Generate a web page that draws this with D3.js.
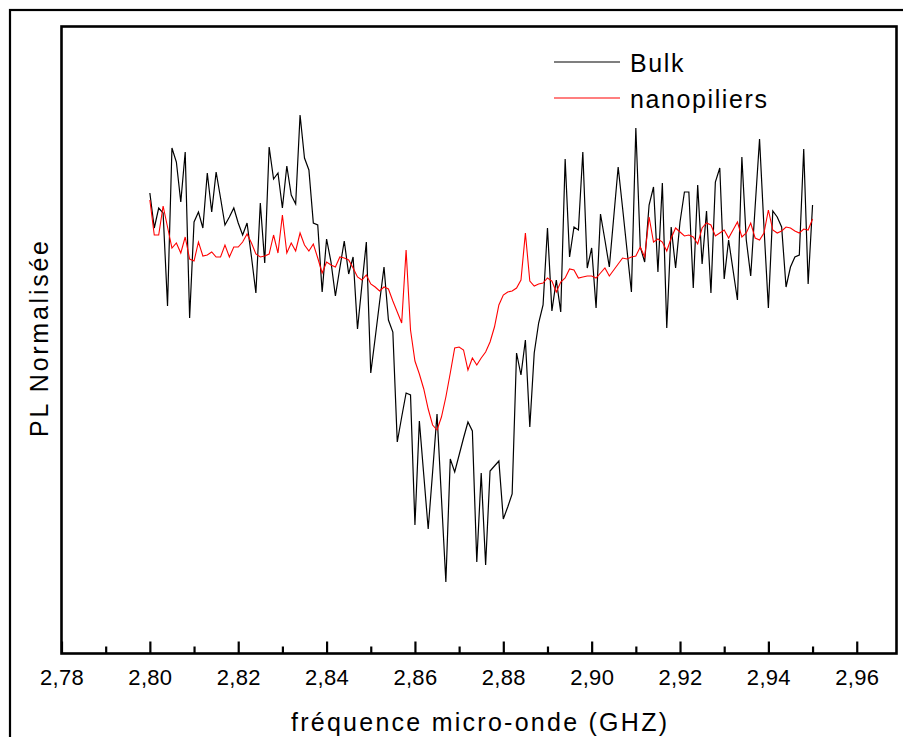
<!DOCTYPE html>
<html><head><meta charset="utf-8">
<script src="https://cdn.jsdelivr.net/npm/d3@7"></script>
<style>html,body{margin:0;padding:0;background:#fff;} svg{display:block;}</style>
</head><body>
<svg id="c" width="903" height="737"></svg>
<script>
// Sweep: 2.800 GHz to 2.950 GHz, 1 MHz step (151 points)
const freqStart = 2.800;
const freqStep = 0.001;

const bulk = [
0.460,0.425,0.445,0.440,0.347,0.505,0.491,0.451,0.501,0.335,
0.431,0.441,0.425,0.480,0.441,0.481,0.455,0.428,0.436,0.445,
0.430,0.418,0.430,0.396,0.360,0.450,0.390,0.506,0.474,0.480,
0.445,0.487,0.458,0.449,0.538,0.495,0.483,0.430,0.428,0.361,
0.414,0.391,0.357,0.385,0.412,0.379,0.396,0.324,0.368,0.411,
0.280,0.315,0.351,0.386,0.333,0.321,0.211,0.236,0.260,0.258,
0.128,0.232,0.178,0.124,0.181,0.239,0.155,0.071,0.194,0.181,
0.198,0.215,0.231,0.222,0.091,0.180,0.088,0.182,0.187,0.192,
0.134,0.146,0.159,0.300,0.278,0.313,0.226,0.300,0.330,0.348,
0.425,0.342,0.373,0.341,0.494,0.396,0.426,0.423,0.501,0.385,
0.405,0.345,0.439,0.413,0.386,0.436,0.486,0.445,0.403,0.361,
0.525,0.406,0.391,0.448,0.466,0.381,0.470,0.325,0.426,0.385,
0.431,0.461,0.461,0.365,0.468,0.389,0.442,0.360,0.471,0.485,
0.374,0.413,0.383,0.353,0.496,0.413,0.377,0.446,0.514,0.426,
0.345,0.442,0.436,0.426,0.366,0.386,0.396,0.398,0.504,0.369,
0.448
];

const nano = [
0.453,0.418,0.418,0.447,0.426,0.405,0.410,0.400,0.416,0.394,
0.392,0.411,0.397,0.398,0.401,0.396,0.396,0.408,0.396,0.406,
0.406,0.411,0.419,0.410,0.399,0.396,0.397,0.399,0.418,0.400,
0.438,0.400,0.410,0.402,0.420,0.408,0.402,0.409,0.395,0.380,
0.391,0.388,0.386,0.396,0.395,0.393,0.385,0.376,0.373,0.378,
0.369,0.366,0.362,0.366,0.364,0.352,0.341,0.330,0.403,0.323,
0.292,0.279,0.264,0.244,0.228,0.223,0.236,0.256,0.280,0.305,
0.306,0.303,0.283,0.295,0.288,0.295,0.301,0.311,0.326,0.348,
0.358,0.361,0.362,0.365,0.373,0.420,0.372,0.367,0.369,0.370,
0.375,0.372,0.361,0.371,0.375,0.384,0.383,0.375,0.376,0.377,
0.377,0.375,0.380,0.385,0.377,0.383,0.389,0.395,0.394,0.396,
0.397,0.406,0.396,0.436,0.411,0.414,0.411,0.402,0.415,0.425,
0.421,0.417,0.418,0.416,0.409,0.425,0.430,0.428,0.417,0.420,
0.423,0.415,0.423,0.431,0.416,0.420,0.430,0.415,0.413,0.420,
0.443,0.423,0.420,0.422,0.426,0.425,0.422,0.420,0.424,0.423,
0.434
];

const seriesNames = ["Bulk", "nanopiliers"];
const seriesColors = ["#000000", "#ff0000"];
const majorTicks = [2.78,2.80,2.82,2.84,2.86,2.88,2.90,2.92,2.94,2.96];
const majorTickLabels = ["2,78","2,80","2,82","2,84","2,86","2,88","2,90","2,92","2,94","2,96"];
const minorTicks = [2.79,2.81,2.83,2.85,2.87,2.89,2.91,2.93,2.95];
const xTitle = "fréquence micro-onde (GHZ)";
const yTitle = "PL Normalisée";

const svg = d3.select("#c");
const L = 61.5, R = 896.5, T = 26.5, B = 653.5;
const font = "'Liberation Sans', Arial, sans-serif";

const x = d3.scaleLinear().domain([2.78, 2.969]).range([L, R]);
const y = d3.scaleLinear().domain([0, 0.627]).range([653, 26]);

// outer frame
svg.append("rect").attr("x",10).attr("y",10).attr("width",905).attr("height",740)
  .attr("fill","none").attr("stroke","#000").attr("stroke-width",2.2);

// data lines (clip to plot)
svg.append("clipPath").attr("id","clip").append("rect")
  .attr("x",L).attr("y",T).attr("width",R-L).attr("height",B-T);
const g = svg.append("g").attr("clip-path","url(#clip)");
const freqs = bulk.map((_, i) => +(freqStart + i*freqStep).toFixed(3));
const line = d3.line().x((d,i)=>x(freqs[i])).y(d=>y(d));
g.append("path").datum(bulk).attr("d", line).attr("fill","none")
  .attr("stroke", seriesColors[0]).attr("stroke-width",1.2).attr("stroke-linejoin","miter");
g.append("path").datum(nano).attr("d", line).attr("fill","none")
  .attr("stroke", seriesColors[1]).attr("stroke-width",1.1);

// inner frame
svg.append("rect").attr("x",L).attr("y",T).attr("width",R-L).attr("height",B-T)
  .attr("fill","none").attr("stroke","#000").attr("stroke-width",2.6);

// x axis
const ax = svg.append("g").attr("transform",`translate(0,${B})`)
  .call(d3.axisBottom(x).tickValues(majorTicks).tickSize(-12).tickPadding(20)
    .tickFormat((d,i)=>majorTickLabels[i]));
ax.select(".domain").remove();
ax.selectAll(".tick line").attr("stroke","#000").attr("stroke-width",2.2);
ax.selectAll(".tick text").attr("font-family",font).attr("font-size",22)
  .attr("fill","#000").attr("letter-spacing","0.3px").attr("dy",0).attr("y",31.5);
const axm = svg.append("g").attr("transform",`translate(0,${B})`)
  .call(d3.axisBottom(x).tickValues(minorTicks).tickSize(-7).tickFormat(""));
axm.select(".domain").remove();
axm.selectAll(".tick line").attr("stroke","#000").attr("stroke-width",2.2);

// titles
svg.append("text").attr("x",(L+R)/2).attr("y",731).attr("text-anchor","middle")
  .attr("font-family",font).attr("font-size",25).attr("fill","#000")
  .attr("textLength",376).attr("lengthAdjust","spacing").text(xTitle);
svg.append("text").attr("transform","translate(48,339) rotate(-90)").attr("text-anchor","middle")
  .attr("font-family",font).attr("font-size",25).attr("fill","#000")
  .attr("textLength",196).attr("lengthAdjust","spacing").text(yTitle);

// legend
const leg = svg.append("g");
const legY = [62, 98];
const legTextY = [72, 108];
seriesNames.forEach((n,i)=>{
  leg.append("line").attr("x1",554).attr("x2",620).attr("y1",legY[i]).attr("y2",legY[i])
    .attr("stroke",seriesColors[i]).attr("stroke-width",1.2);
  leg.append("text").attr("x",630).attr("y",legTextY[i]).attr("font-family",font)
    .attr("font-size",25).attr("letter-spacing","1.6px").attr("fill","#000").text(n);
});
</script>
</body></html>
